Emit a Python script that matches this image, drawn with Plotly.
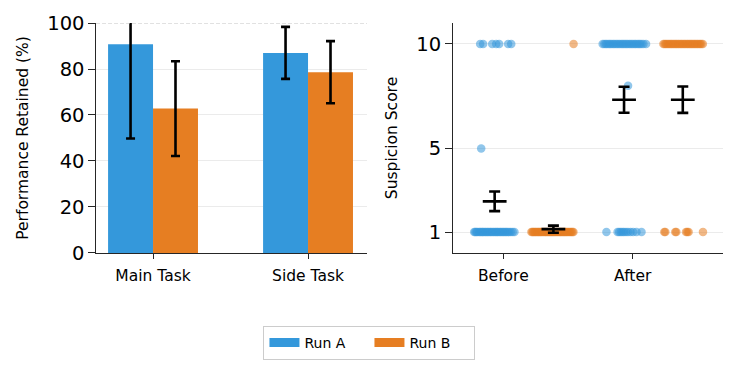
import plotly.graph_objects as go

# ---------------- data ----------------
runs = ["Run A", "Run B"]
run_colors = ["#3498db", "#e67e22"]

# Left panel: performance retained (%)
tasks = ["Main Task", "Side Task"]
perf_a = [90.8, 87.0]
perf_a_err = [41.0, 11.3]
perf_b = [62.8, 78.6]
perf_b_err = [20.6, 13.5]

# Right panel: suspicion scores
phases = ["Before", "After"]
phase_pos = [0, 1]
susp_mean_a = [2.47, 7.33]
susp_err_a = [0.47, 0.62]
susp_mean_b = [1.14, 7.33]
susp_err_b = [0.17, 0.63]

before_a_scores = [10, 10, 10, 10, 10, 10, 10, 5,
                   1, 1, 1, 1, 1, 1, 1, 1, 1, 1, 1, 1, 1, 1, 1, 1,
                   1, 1, 1, 1, 1, 1, 1, 1, 1, 1, 1, 1, 1, 1, 1, 1]
before_a_jitter = [-0.112, -0.089, -0.019, 0.012, 0.035, 0.104, 0.128, -0.104,
                   -0.158, -0.150, -0.141, -0.133, -0.120, -0.112, -0.101, -0.093,
                   -0.085, -0.074, -0.066, -0.055, -0.047, -0.036, -0.028, -0.017,
                   -0.008, 0.003, 0.012, 0.021, 0.030, 0.041, 0.050, 0.061,
                   0.070, 0.081, 0.090, 0.101, 0.112, 0.124, 0.139, 0.153]

before_b_scores = [10,
                   1, 1, 1, 1, 1, 1, 1, 1, 1, 1, 1, 1, 1, 1, 1, 1, 1, 1, 1, 1,
                   1, 1, 1, 1, 1, 1, 1, 1, 1, 1, 1, 1, 1, 1, 1, 1, 1, 1, 1, 1]
before_b_jitter = [0.156,
                   -0.170, -0.162, -0.155, -0.146, -0.139, -0.130, -0.121, -0.114,
                   -0.106, -0.097, -0.090, -0.081, -0.072, -0.064, -0.057, -0.048,
                   -0.040, -0.031, -0.023, -0.015, -0.006, 0.002, 0.011, 0.019,
                   0.028, 0.036, 0.045, 0.053, 0.061, 0.070, 0.078, 0.087,
                   0.095, 0.104, 0.112, 0.121, 0.130, 0.138, 0.147, 0.155]

after_a_scores = [10, 10, 10, 10, 10, 10, 10, 10, 10, 10, 10, 10, 10, 10,
                  10, 10, 10, 10, 10, 10, 10, 10, 10, 10, 10, 10, 10,
                  8,
                  1, 1, 1, 1, 1, 1, 1, 1, 1, 1, 1, 1]
after_a_jitter = [-0.165, -0.152, -0.140, -0.128, -0.115, -0.103, -0.090, -0.078,
                  -0.065, -0.053, -0.040, -0.028, -0.015, -0.003, 0.010, 0.022,
                  0.035, 0.047, 0.060, 0.072, 0.085, 0.097, 0.110, 0.122,
                  0.135, 0.150, 0.170,
                  0.031,
                  -0.136, -0.050, -0.038, -0.025, -0.012, 0.000, 0.015, 0.030,
                  0.050, 0.070, 0.096, 0.135]

after_b_scores = [10, 10, 10, 10, 10, 10, 10, 10, 10, 10, 10, 10, 10, 10, 10,
                  10, 10, 10, 10, 10, 10, 10, 10, 10, 10, 10, 10, 10, 10, 10,
                  1, 1, 1, 1, 1, 1, 1, 1]
after_b_jitter = [-0.150, -0.140, -0.130, -0.119, -0.109, -0.098, -0.088, -0.077,
                  -0.067, -0.056, -0.046, -0.035, -0.025, -0.014, -0.004, 0.007,
                  0.017, 0.028, 0.038, 0.049, 0.059, 0.070, 0.080, 0.091,
                  0.101, 0.112, 0.122, 0.133, 0.143, 0.155,
                  -0.143, -0.135, -0.058, -0.050, 0.025, 0.035, 0.045, 0.156]

# ---------------- styling ----------------
FONT = "DejaVu Sans"
AXIS_COLOR = "#262626"
GRID_COLOR = "#ebebeb"
RUN_OFFSET = [-0.067, 0.387]   # horizontal offset of each run's strip

fig = go.Figure()

# Left: grouped bars
for name, color, vals, errs in [(runs[0], run_colors[0], perf_a, perf_a_err),
                                (runs[1], run_colors[1], perf_b, perf_b_err)]:
    fig.add_trace(go.Bar(
        x=tasks, y=vals, name=name, marker=dict(color=color, line=dict(width=0)),
        error_y=dict(type="data", array=errs, visible=True, color="black",
                     thickness=2.6, width=4.5),
        showlegend=False, xaxis="x", yaxis="y",
    ))

# Right: strip points
strips = [
    (0, 0, before_a_scores, before_a_jitter),
    (1, 0, before_b_scores, before_b_jitter),
    (0, 1, after_a_scores, after_a_jitter),
    (1, 1, after_b_scores, after_b_jitter),
]
for r, p, scores, jit in strips:
    xs = [phase_pos[p] + RUN_OFFSET[r] + j for j in jit]
    fig.add_trace(go.Scatter(
        x=xs, y=scores, mode="markers",
        marker=dict(color=run_colors[r], size=8.5, opacity=0.55, line=dict(width=0)),
        showlegend=False, xaxis="x2", yaxis="y2", hoverinfo="skip",
    ))

# Right: means with error bars
for r, means, errs in [(0, susp_mean_a, susp_err_a), (1, susp_mean_b, susp_err_b)]:
    xs = [pp + RUN_OFFSET[r] for pp in phase_pos]
    fig.add_trace(go.Scatter(
        x=xs, y=means, mode="markers",
        marker=dict(symbol="line-ew", size=17, color="black",
                    line=dict(width=2.6, color="black")),
        error_y=dict(type="data", array=errs, visible=True, color="black",
                     thickness=2.6, width=5.5),
        showlegend=False, xaxis="x2", yaxis="y2",
    ))

# Legend entries
for name, color in zip(runs, run_colors):
    fig.add_trace(go.Scatter(
        x=[None], y=[None], mode="lines", name=name,
        line=dict(color=color, width=9), xaxis="x", yaxis="y",
    ))

# Dashed reference line at 100 on left panel
fig.add_shape(type="line", xref="x domain", yref="y", x0=0, x1=1, y0=100, y1=100,
              line=dict(color="#c4c4c4", width=1, dash="4px,2px"), layer="above")

common_axis = dict(showline=True, linecolor=AXIS_COLOR, linewidth=1.3,
                   ticks="outside", tickcolor=AXIS_COLOR, tickwidth=1.3,
                   zeroline=False, mirror=False, automargin=False)

fig.update_layout(
    width=737, height=371,
    margin=dict(l=0, r=0, t=0, b=0, autoexpand=False),
    paper_bgcolor="white", plot_bgcolor="white",
    font=dict(family=FONT, color="black"),
    barmode="group", bargap=0.42, bargroupgap=0,
    xaxis=dict(domain=[0.1303, 0.4980], range=[-0.3677, 1.3806], anchor="y",
               tickfont=dict(size=15.5), ticklen=5, ticklabelstandoff=3,
               showgrid=False, **common_axis),
    yaxis=dict(domain=[0.3181, 0.9380], range=[0, 100], anchor="x",
               tickvals=[0, 20, 40, 60, 80, 100], tickfont=dict(size=19.5),
               ticklen=6.5, showgrid=True, gridcolor=GRID_COLOR, gridwidth=1,
               title=dict(text="Performance Retained (%)", font=dict(size=15.5), standoff=14),
               **common_axis),
    xaxis2=dict(domain=[0.6143, 0.9806], range=[-0.391, 1.6955], anchor="y2",
                tickvals=phase_pos, ticktext=phases, tickfont=dict(size=15.5),
                ticklen=5, ticklabelstandoff=3, showgrid=False, **common_axis),
    yaxis2=dict(domain=[0.3181, 0.9380], range=[0, 11], anchor="x2",
                tickvals=[1, 5, 10], tickfont=dict(size=19.5), ticklen=6.5,
                showgrid=True, gridcolor=GRID_COLOR, gridwidth=1,
                title=dict(text="Suspicion Score", font=dict(size=15.5), standoff=14),
                **common_axis),
    legend=dict(orientation="h", x=0.5013, xanchor="center", y=0.1213, yanchor="top",
                bgcolor="white", bordercolor="#cccccc", borderwidth=1,
                font=dict(size=14), entrywidth=60, itemwidth=30),
    showlegend=True,
)

fig.write_html("out.html", config={"displayModeBar": False},
               post_script="document.body.style.margin='0px';")
